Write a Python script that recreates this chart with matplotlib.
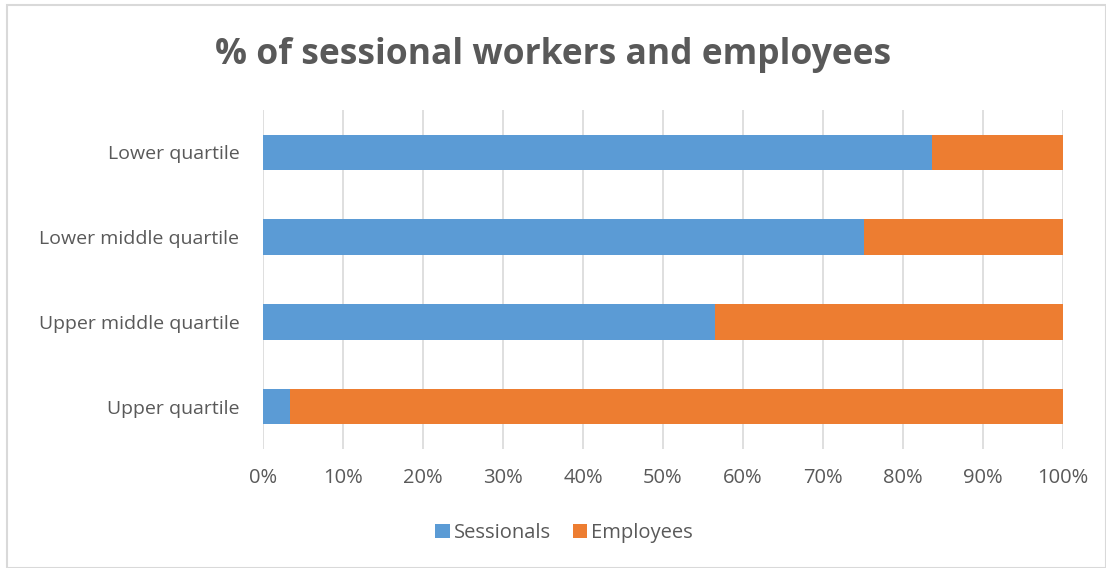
import matplotlib
matplotlib.use("Agg")
import matplotlib.pyplot as plt
from matplotlib.patches import Rectangle
import numpy as np

categories = ["Lower quartile", "Lower middle quartile", "Upper middle quartile", "Upper quartile"]
sessionals = [83.6, 75.1, 56.5, 3.4]
employees = [100 - v for v in sessionals]
xticks = list(range(0, 101, 10))
xtick_labels = [f"{t}%" for t in xticks]

plt.rcParams['font.family'] = ['Open Sans', 'DejaVu Sans']

fig = plt.figure(figsize=(11.06, 5.68), dpi=100)
ax = fig.add_axes([263/1106, 1 - 449/568, 800/1106, 339/568])

grey = "#595959"
blue = "#5B9BD5"
orange = "#ED7D31"

y = np.arange(len(categories))
h = 0.42
ax.barh(y, sessionals, height=h, color=blue, label="Sessionals", zorder=3)
ax.barh(y, employees, left=sessionals, height=h, color=orange, label="Employees", zorder=3)

ax.set_xlim(0, 100)
ax.set_ylim(len(categories) - 0.5, -0.5)
ax.set_yticks(y)
ax.set_yticklabels(categories, fontsize=14, color=grey)
ax.set_xticks(xticks)
ax.set_xticklabels(xtick_labels, fontsize=14.5, color=grey)
ax.tick_params(axis='both', length=0)
ax.tick_params(axis='y', pad=17)
ax.tick_params(axis='x', pad=14)
ax.grid(axis='x', color="#D9D9D9", linewidth=1.2, zorder=0)
for s in ax.spines.values():
    s.set_visible(False)

fig.text(0.5, 1 - 55/568, "% of sessional workers and employees", ha='center', va='center',
         fontsize=25.5, fontweight='bold', color=grey)

leg = fig.legend(loc='center', bbox_to_anchor=(0.51, 1 - 533/568), ncol=2, frameon=False,
                 fontsize=14.5, handlelength=0.7, handleheight=0.7, columnspacing=1.1,
                 handletextpad=0.2)
for t in leg.get_texts():
    t.set_color(grey)

fig.patches.append(Rectangle((7/1106, 0), 1 - 7/1106, 1 - 5/568, transform=fig.transFigure,
                             fill=False, edgecolor="#D9D9D9", linewidth=1.5))

fig.savefig("out.png", dpi=100)
